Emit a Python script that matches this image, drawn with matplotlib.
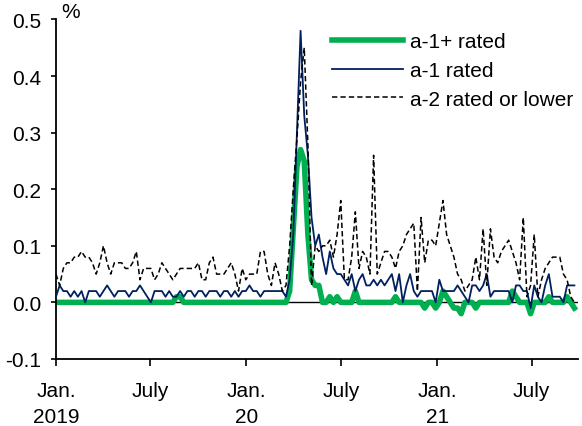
import matplotlib
matplotlib.use("Agg")
import matplotlib.pyplot as plt
import pandas as pd
from datetime import datetime

plt.rcParams["font.family"] = ["Liberation Sans", "DejaVu Sans"]
plt.rcParams["axes.unicode_minus"] = False

# weekly observations, Jan. 2019 - Sept. 2021
weeks = pd.date_range("2019-01-01", periods=143, freq="7D")

a1_plus = [
    0.00, 0.00, 0.00, 0.00, 0.00, 0.00, 0.00, 0.00, 0.00, 0.00,
    0.00, 0.00, 0.00, 0.00, 0.00, 0.00, 0.00, 0.00, 0.00, 0.00,
    0.00, 0.00, 0.00, 0.00, 0.00, 0.00, 0.00, 0.00, 0.00, 0.00,
    0.00, 0.00, 0.00, 0.01, 0.01, 0.00, 0.00, 0.00, 0.00, 0.00,
    0.00, 0.00, 0.00, 0.00, 0.00, 0.00, 0.00, 0.00, 0.00, 0.00,
    0.00, 0.00, 0.00, 0.00, 0.00, 0.00, 0.00, 0.00, 0.00, 0.00,
    0.00, 0.00, 0.00, 0.00, 0.02, 0.13, 0.24, 0.27, 0.25, 0.12,
    0.04, 0.03, 0.03, 0.00, 0.00, 0.01, 0.00, 0.01, 0.00, 0.00,
    0.00, 0.00, 0.02, 0.00, 0.00, 0.00, 0.00, 0.00, 0.00, 0.00,
    0.00, 0.00, 0.00, 0.01, 0.00, 0.00, 0.00, 0.00, 0.00, 0.00,
    0.00, -0.01, 0.00, 0.00, -0.01, 0.00, 0.02, 0.01, 0.00, -0.01,
    -0.01, -0.02, 0.00, 0.00, 0.00, -0.01, 0.00, 0.00, 0.00, 0.00,
    0.00, 0.00, 0.00, 0.00, 0.00, 0.02, 0.01, 0.00, 0.00, 0.00,
    -0.02, 0.00, 0.00, 0.00, 0.00, 0.01, 0.00, 0.00, 0.00, 0.00,
    0.01, 0.00, -0.01,
]

a1 = [
    0.01, 0.03, 0.02, 0.02, 0.01, 0.02, 0.01, 0.02, 0.00, 0.02,
    0.02, 0.02, 0.01, 0.02, 0.03, 0.02, 0.01, 0.02, 0.02, 0.02,
    0.01, 0.02, 0.02, 0.03, 0.02, 0.01, 0.00, 0.02, 0.02, 0.02,
    0.01, 0.02, 0.01, 0.01, 0.02, 0.01, 0.02, 0.02, 0.01, 0.02,
    0.02, 0.01, 0.02, 0.02, 0.02, 0.01, 0.02, 0.02, 0.01, 0.02,
    0.01, 0.02, 0.02, 0.03, 0.02, 0.02, 0.01, 0.02, 0.02, 0.02,
    0.02, 0.02, 0.02, 0.01, 0.04, 0.12, 0.30, 0.48, 0.33, 0.26,
    0.15, 0.10, 0.12, 0.08, 0.05, 0.09, 0.06, 0.05, 0.05, 0.04,
    0.03, 0.05, 0.02, 0.04, 0.05, 0.03, 0.03, 0.04, 0.03, 0.04,
    0.03, 0.04, 0.05, 0.02, 0.05, 0.00, 0.03, 0.05, 0.02, 0.01,
    0.02, 0.02, 0.02, 0.02, 0.00, 0.04, 0.02, 0.02, 0.02, 0.02,
    0.03, 0.02, 0.01, 0.00, 0.03, 0.03, 0.02, 0.03, 0.05, 0.01,
    0.02, 0.02, 0.02, 0.02, 0.02, 0.00, 0.03, 0.03, 0.02, 0.02,
    -0.01, 0.03, 0.01, 0.00, 0.03, 0.05, 0.01, 0.01, 0.01, 0.00,
    0.03, 0.03, 0.03,
]

a2 = [
    0.05, 0.03, 0.06, 0.07, 0.07, 0.08, 0.08, 0.09, 0.08, 0.08,
    0.07, 0.05, 0.07, 0.10, 0.07, 0.05, 0.07, 0.07, 0.07, 0.06,
    0.06, 0.07, 0.09, 0.04, 0.06, 0.06, 0.06, 0.04, 0.05, 0.07,
    0.06, 0.05, 0.04, 0.05, 0.06, 0.06, 0.06, 0.06, 0.06, 0.07,
    0.04, 0.04, 0.07, 0.08, 0.05, 0.05, 0.05, 0.06, 0.07, 0.05,
    0.02, 0.06, 0.04, 0.05, 0.05, 0.05, 0.09, 0.09, 0.05, 0.03,
    0.07, 0.05, 0.02, 0.03, 0.10, 0.20, 0.29, 0.39, 0.45, 0.28,
    0.03, 0.10, 0.09, 0.10, 0.10, 0.11, 0.08, 0.12, 0.18, 0.04,
    0.04, 0.08, 0.16, 0.06, 0.09, 0.08, 0.05, 0.26, 0.05, 0.07,
    0.09, 0.09, 0.08, 0.06, 0.09, 0.10, 0.12, 0.13, 0.14, 0.02,
    0.15, 0.07, 0.11, 0.11, 0.10, 0.14, 0.18, 0.12, 0.10, 0.08,
    0.05, 0.04, 0.02, 0.03, 0.04, 0.08, 0.04, 0.13, 0.03, 0.13,
    0.08, 0.07, 0.09, 0.10, 0.11, 0.09, 0.07, 0.04, 0.15, 0.01,
    0.03, 0.12, 0.01, 0.04, 0.06, 0.07, 0.08, 0.08, 0.08, 0.05,
    0.04, 0.01, 0.00,
]

tick_dates = [datetime(2019, 1, 1), datetime(2019, 7, 1), datetime(2020, 1, 1),
              datetime(2020, 7, 1), datetime(2021, 1, 1), datetime(2021, 7, 1)]
tick_labels = ["Jan.\n2019", "July", "Jan.\n20", "July", "Jan.\n21", "July"]
y_ticks = [-0.1, 0.0, 0.1, 0.2, 0.3, 0.4, 0.5]

FS = 15

fig = plt.figure(figsize=(5.82, 4.27), dpi=100)
ax = fig.add_axes([0.0962, 0.157, 0.897, 0.795])

ax.axhline(0, color="black", lw=1.0, zorder=1)
ax.plot(weeks, a1_plus, color="#00b050", lw=4, label="a-1+ rated", zorder=2)
ax.plot(weeks, a1, color="#002060", lw=1.3, label="a-1 rated", zorder=3)
ax.plot(weeks, a2, color="black", lw=1.1, ls=(0, (3.5, 2)), label="a-2 rated or lower", zorder=4)

ax.set_ylim(-0.1, 0.5)
ax.set_xlim(datetime(2019, 1, 1), datetime(2021, 9, 28))
ax.set_yticks(y_ticks)
ax.set_yticklabels([f"{v:.1f}" for v in y_ticks], fontsize=FS)
ax.set_xticks(tick_dates)
ax.set_xticklabels(tick_labels, fontsize=FS, linespacing=1.45)

for side in ("top", "right"):
    ax.spines[side].set_visible(False)
for side in ("left", "bottom"):
    ax.spines[side].set_linewidth(1.3)
ax.tick_params(axis="x", direction="out", length=5, width=1.2, pad=11)
ax.tick_params(axis="y", direction="out", length=3.5, width=1.2, pad=7)

fig.text(71 / 582, 1 - 12 / 427, "%", ha="center", va="center", fontsize=FS)

ax.legend(loc="upper left", bbox_to_anchor=(332 / 582, 1 - 33 / 427),
          bbox_transform=fig.transFigure, frameon=False, fontsize=FS,
          borderpad=0, borderaxespad=0, handlelength=3.4, handletextpad=0.35,
          labelspacing=0.47)

fig.savefig("out.png", dpi=100)
